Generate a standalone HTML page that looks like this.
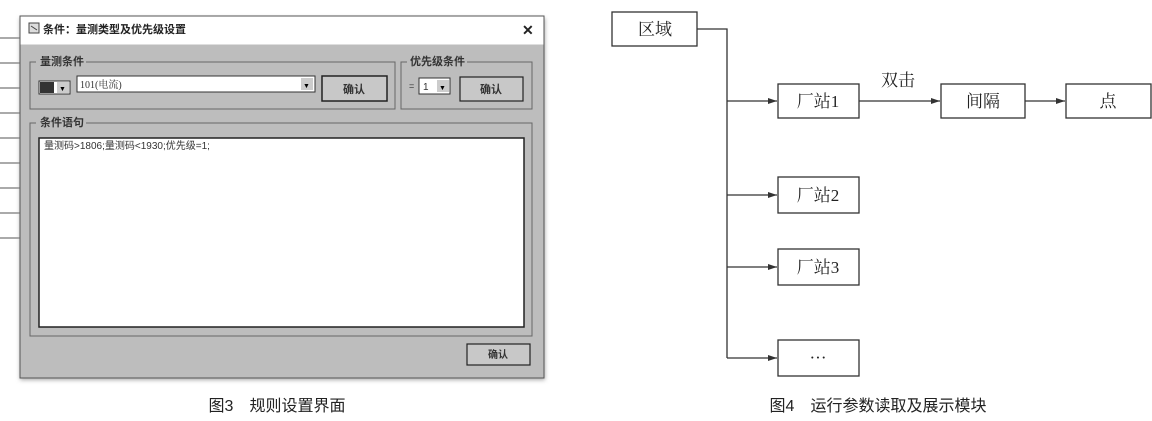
<!DOCTYPE html>
<html><head><meta charset="utf-8"><style>
html,body{margin:0;padding:0;background:#fff;}
svg{display:block;}
text{font-family:"Liberation Sans","Noto Sans CJK SC",sans-serif;}
.s{font-family:"Liberation Serif","Noto Serif CJK SC",serif;}
</style></head><body>
<svg width="1152" height="421" viewBox="0 0 1152 421" xmlns="http://www.w3.org/2000/svg">
<defs>
<marker id="a" markerWidth="10" markerHeight="8" refX="9" refY="4" orient="auto" markerUnits="userSpaceOnUse"><path d="M0,1 L9,4 L0,7 Z" fill="#333"/></marker>
<filter id="sh" x="-5%" y="-5%" width="110%" height="110%"><feGaussianBlur stdDeviation="2"/></filter>
</defs>
<rect x="0" y="0" width="20" height="380" fill="#fff"/>
<g stroke="#555" stroke-width="1">
<line x1="0" y1="38" x2="20" y2="38"/><line x1="0" y1="63" x2="20" y2="63"/><line x1="0" y1="88" x2="20" y2="88"/><line x1="0" y1="113" x2="20" y2="113"/><line x1="0" y1="138" x2="20" y2="138"/><line x1="0" y1="163" x2="20" y2="163"/><line x1="0" y1="188" x2="20" y2="188"/><line x1="0" y1="213" x2="20" y2="213"/><line x1="0" y1="238" x2="20" y2="238"/>
</g>
<rect x="20" y="18" width="525" height="362" fill="#aaa" filter="url(#sh)"/>
<rect x="20" y="16" width="524" height="362" fill="#bdbdbd" stroke="#555" stroke-width="1"/>
<rect x="20.5" y="16.5" width="523" height="28" fill="#fff"/>
<rect x="29" y="23" width="10" height="10" fill="#ddd" stroke="#444"/>
<line x1="31" y1="26" x2="37" y2="30" stroke="#444"/>
<text x="43" y="33" font-size="11" font-weight="bold" fill="#222">条件：量测类型及优先级设置</text>
<text x="522" y="35" font-size="14" font-weight="bold" fill="#222">✕</text>
<rect x="30" y="62" width="365" height="47" fill="none" stroke="#666"/>
<rect x="36" y="55" width="50" height="12" fill="#bdbdbd"/>
<text x="40" y="65" font-size="11" font-weight="bold" fill="#333">量测条件</text>
<rect x="39" y="81" width="31" height="13" fill="#fff" stroke="#333"/>
<rect x="40" y="82" width="14" height="11" fill="#333"/>
<rect x="57" y="82" width="12" height="11" fill="#ccc"/><text x="59" y="91" font-size="7" fill="#000">▼</text>
<rect x="77" y="76" width="238" height="16" fill="#fff" stroke="#333"/>
<text x="80" y="88" font-size="10" fill="#333" class="s">101(电流)</text>
<rect x="301" y="78" width="12" height="12" fill="#ccc"/><text x="303" y="88" font-size="7" fill="#000">▼</text>
<rect x="322" y="76" width="65" height="25" fill="#c8c8c8" stroke="#222" stroke-width="1.5"/>
<text x="354" y="93" font-size="11" font-weight="bold" fill="#333" text-anchor="middle">确认</text>
<rect x="401" y="62" width="131" height="47" fill="none" stroke="#666"/>
<rect x="407" y="55" width="60" height="12" fill="#bdbdbd"/>
<text x="410" y="65" font-size="11" font-weight="bold" fill="#333">优先级条件</text>
<text x="409" y="89" font-size="9" fill="#333">=</text>
<rect x="419" y="78" width="31" height="16" fill="#fff" stroke="#333"/>
<text x="423" y="90" font-size="10" fill="#333">1</text>
<rect x="437" y="80" width="12" height="12" fill="#ccc"/><text x="439" y="90" font-size="7" fill="#000">▼</text>
<rect x="460" y="77" width="63" height="24" fill="#c8c8c8" stroke="#222" stroke-width="1.2"/>
<text x="491" y="93" font-size="11" font-weight="bold" fill="#333" text-anchor="middle">确认</text>
<rect x="30" y="123" width="502" height="213" fill="none" stroke="#666"/>
<rect x="36" y="116" width="50" height="12" fill="#bdbdbd"/>
<text x="40" y="126" font-size="11" font-weight="bold" fill="#333">条件语句</text>
<rect x="39" y="138" width="485" height="189" fill="#fff" stroke="#222" stroke-width="1.5"/>
<text x="44" y="149" font-size="10" fill="#333">量测码&gt;1806;量测码&lt;1930;优先级=1;</text>
<rect x="467" y="344" width="63" height="21" fill="#c8c8c8" stroke="#222" stroke-width="1.2"/>
<text x="498" y="358" font-size="10" font-weight="bold" fill="#333" text-anchor="middle">确认</text>
<text x="277" y="411" font-size="16" fill="#222" text-anchor="middle">图3　规则设置界面</text>

<g stroke="#333" stroke-width="1.3" fill="#fff">
<rect x="612" y="12" width="85" height="34"/>
<rect x="778" y="84" width="81" height="34"/>
<rect x="941" y="84" width="84" height="34"/>
<rect x="1066" y="84" width="85" height="34"/>
<rect x="778" y="177" width="81" height="36"/>
<rect x="778" y="249" width="81" height="36"/>
<rect x="778" y="340" width="81" height="36"/>
</g>
<g stroke="#333" stroke-width="1.3" fill="none">
<polyline points="697,29 727,29 727,358"/>
<line x1="727" y1="101" x2="777" y2="101" marker-end="url(#a)"/>
<line x1="727" y1="195" x2="777" y2="195" marker-end="url(#a)"/>
<line x1="727" y1="267" x2="777" y2="267" marker-end="url(#a)"/>
<line x1="727" y1="358" x2="777" y2="358" marker-end="url(#a)"/>
<line x1="859" y1="101" x2="940" y2="101" marker-end="url(#a)"/>
<line x1="1025" y1="101" x2="1065" y2="101" marker-end="url(#a)"/>
</g>
<g font-size="17" fill="#222" text-anchor="middle">
<text x="655" y="35" class="s">区域</text>
<text x="818" y="107" class="s">厂站1</text>
<text x="898" y="86" class="s">双击</text>
<text x="983" y="107" class="s">间隔</text>
<text x="1108" y="107" class="s">点</text>
<text x="818" y="201" class="s">厂站2</text>
<text x="818" y="273" class="s">厂站3</text>
<text x="818" y="363" class="s">···</text>
</g>
<text x="878" y="411" font-size="16" fill="#222" text-anchor="middle">图4　运行参数读取及展示模块</text>
</svg>
</body></html>
